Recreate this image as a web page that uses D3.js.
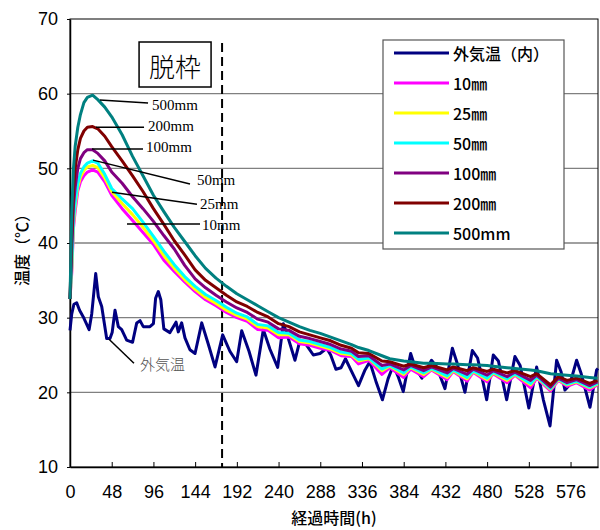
<!DOCTYPE html>
<html>
<head>
<meta charset="utf-8">
<script src="https://cdn.jsdelivr.net/npm/d3@7"></script>
<style>
  body { margin: 0; background: #fff; }
  svg { display: block; }
</style>
</head>
<body>
<svg id="chart" width="600" height="530"></svg>
<script>
// ---- data ----------------------------------------------------------------
// Elapsed hours shared by the concrete-depth sensors
const hours = [0,2,4,6,9,12,16,20,26,32,
  40,48,60,72,84,96,108,120,132,144,
  156,168,180,192,204,216,228,240,252,264,
  276,288,300,312,324,332,344,359,368,384,
  392,407,416,434,441,457,464,480,487,503,
  512,530,537,553,562,572,583,598,607];

// Concrete temperature (°C) at each depth
const temp10 = [32.5,36,42,44.3,47,48.2,49.0,49.5,49.8,49.5,
  48.2,46.4,44.6,43.0,41.4,39.8,37.7,36.2,34.8,33.5,
  32.4,31.6,30.7,30.0,29.5,28.4,28.3,27.3,27.4,26.5,
  26.3,25.9,25.6,24.9,24.8,23.8,24.3,22.4,23.3,22.0,
  23.1,22.1,23.0,21.7,22.8,21.5,22.7,21.4,22.5,21.3,
  22.3,20.6,21.9,20.2,21.6,20.8,21.3,20.3,21.0];
const temp25 = [32.5,36.5,42.5,45,47.5,48.8,49.7,50.2,50.4,50.1,
  48.7,46.9,45.3,43.8,42.1,40.3,38.3,36.6,35.1,33.8,
  32.7,31.9,31.0,30.3,29.8,28.8,28.6,27.7,27.7,26.8,
  26.6,26.2,25.8,25.2,25.0,24.2,24.5,22.9,23.5,22.4,
  23.3,22.4,23.1,22.0,22.9,21.8,22.8,21.7,22.6,21.6,
  22.4,21.0,22.0,20.4,21.7,21.0,21.4,20.6,21.1];
const temp50 = [32.5,37,43,45.5,48,49.3,50.2,50.7,51.0,50.7,
  49.2,47.3,45.9,44.6,42.8,40.9,38.9,37.1,35.5,34.2,
  33.1,32.3,31.4,30.6,30.1,29.1,28.9,28.0,27.9,27.0,
  26.8,26.4,26.0,25.4,25.2,24.4,24.6,23.1,23.6,22.6,
  23.4,22.6,23.2,22.2,23.0,22.0,22.9,21.9,22.7,21.8,
  22.5,21.2,22.1,20.5,21.8,21.1,21.5,20.7,21.2];
const temp100 = [32.5,39,45,47.5,50,51.3,52.1,52.5,52.5,52.0,
  51.0,49.5,48.0,46.2,44.6,42.9,41.0,39.2,37.0,35.2,
  34.0,33.0,32.1,31.3,30.7,29.8,29.4,28.5,28.3,27.5,
  27.2,26.8,26.4,25.8,25.5,24.8,24.9,23.6,23.8,23.0,
  23.6,22.9,23.4,22.6,23.2,22.4,23.1,22.3,22.9,22.1,
  22.7,21.6,22.3,20.7,21.9,21.3,21.7,20.9,21.4];
const temp200 = [32.5,41,47,50,52.5,54,55,55.5,55.6,55.3,
  54.3,52.9,51.0,49.0,46.9,44.6,42.5,40.3,38.4,36.4,
  35.0,34.0,33.0,32.1,31.5,30.7,30.1,29.2,28.8,28.1,
  27.7,27.3,26.9,26.3,25.9,25.3,25.2,24.2,24.1,23.5,
  23.8,23.3,23.6,23.0,23.4,22.9,23.3,22.8,23.1,22.6,
  22.9,22.1,22.5,21.0,22.1,21.6,21.9,21.2,21.6];
const temp500 = [32.5,44,50,53,55.5,57.2,58.8,59.5,59.8,59.2,
  58.2,56.9,54.5,51.6,49.0,46.4,44.2,42.1,40.2,38.3,
  36.6,35.3,34.2,33.2,32.4,31.6,30.8,30.0,29.4,28.8,
  28.3,27.9,27.4,26.9,26.4,26.0,25.6,24.9,24.5,24.2,
  24.1,23.9,23.9,23.8,23.8,23.7,23.7,23.6,23.5,23.3,
  23.2,23.0,22.9,22.5,22.4,22.3,22.2,22.0,21.9];

// Outside air temperature (its own sampling hours)
const outdoorHours = [0,2,4.5,7.7,11,15.3,22,25,29.6,32.6,
  36.5,42.2,46,48.5,51.8,55.6,59.5,65.2,72,76.8,
  80.6,84.3,92,96,98.5,101.6,104.5,108,115,122,
  124.6,128.5,132.3,138,143.9,151.6,159,166.9,175.7,184,
  191.8,197.6,206,214,222.5,230,239,245.5,249.4,258.9,
  264.7,272.4,280,287.7,295.4,300,306,312,317,324,
  332,339.5,345,352,359.5,366,372,378,383.5,392,
  397,405,416,422,431.5,440,445,454.5,463,469,
  475.6,479.5,487.1,493,502.5,512,518,528,537,544.7,
  552.4,560,565,569.6,575,583,588,598.4,606,607.6];
const outdoorTemp = [28.3,30.5,31.8,32.0,31.0,30.1,28.4,30.5,35.9,32.8,
  31.5,27.2,27.2,28.0,31.0,28.8,28.4,27.0,26.7,29.3,
  29.6,28.8,28.8,29.2,32.6,33.5,32.4,28.5,28.0,29.4,
  28.1,29.3,27.3,25.7,25.2,29.3,26.5,23.4,27.7,25.5,
  24.1,28.25,25.5,22.3,28.4,25.8,23.35,29.2,27.9,24.3,
  27.0,26.3,25.0,25.2,25.9,25.0,23.1,23.3,24.5,22.8,
  20.9,23.0,24.1,21.5,19.0,21.8,23.6,22.0,20.1,25.2,
  23.4,21.9,24.3,23.4,20.5,25.9,24.1,20.0,25.6,24.6,
  21.2,19.0,25.0,24.2,19.0,24.8,23.6,17.9,23.4,19.0,
  15.5,24.3,22.8,20.3,21.0,24.3,22.6,18.0,23.0,23.2];

// Legend labels and colours, in drawing order
const seriesNames = ["外気温（内）", "10㎜", "25㎜", "50㎜", "100㎜", "200㎜", "500mm"];
const seriesColors = ["#000080", "#ff00ff", "#ffff00", "#00ffff", "#800080", "#800000", "#008080"];

// Axis ticks
const xTicks = [0,48,96,144,192,240,288,336,384,432,480,528,576];
const yTicks = [10,20,30,40,50,60,70];

// Form removal time (h)
const removalHour = 175;

// Callout labels: anchor on a curve (hour, temp), line end and text position in data units
const callouts = [
  { text: "500mm", ax: 34.5, ay: 59.15, bx: 89.8, by: 58.75, tx: 94.4, ty: 57.85 },
  { text: "200mm", ax: 29.9, ay: 55.5,  bx: 85.2, by: 55.5,  tx: 89.8, ty: 55.05 },
  { text: "100mm", ax: 25.3, ay: 52.6,  bx: 84.0, by: 52.6,  tx: 87.5, ty: 52.15 },
  { text: "50mm",  ax: 26.5, ay: 51.1,  bx: 138.1, by: 47.9, tx: 146.1, ty: 47.75 },
  { text: "25mm",  ax: 48.3, ay: 46.8,  bx: 146.1, by: 45.2, tx: 149.6, ty: 44.55 },
  { text: "10mm",  ax: 65.6, ay: 42.55, bx: 149.6, by: 42.55, tx: 151.9, ty: 41.75 }
];
const outdoorCallout = { text: "外気温", ax: 44.9, ay: 27.1, bx: 73.6, by: 23.9, tx: 80.6, ty: 22.95 };

// ---- drawing -------------------------------------------------------------
const svg = d3.select("#chart");
const plotLeft = 70, plotRight = 598, plotTop = 19, plotBottom = 467;

const x = d3.scaleLinear().domain([0, 607.6]).range([plotLeft, plotRight]);
const y = d3.scaleLinear().domain([10, 70]).range([plotBottom, plotTop]);

const numFont = "'Liberation Sans Narrow', 'Liberation Sans', Arial, sans-serif";
const jpFont = "'Noto Sans CJK JP', sans-serif";
const serifFont = "'Liberation Serif', 'Times New Roman', serif";

// horizontal grid
svg.append("g")
  .selectAll("line")
  .data(yTicks.filter(v => v > 10 && v < 70))
  .join("line")
  .attr("x1", plotLeft).attr("x2", plotRight)
  .attr("y1", d => y(d)).attr("y2", d => y(d))
  .attr("stroke", "#808080")
  .attr("stroke-width", 1.3);

// plot frame
svg.append("rect")
  .attr("x", plotLeft).attr("y", plotTop)
  .attr("width", plotRight - plotLeft).attr("height", plotBottom - plotTop)
  .attr("fill", "none").attr("stroke", "#000").attr("stroke-width", 1);

// x axis
const xAxis = svg.append("g")
  .attr("transform", `translate(0,${plotBottom})`)
  .call(d3.axisBottom(x).tickValues(xTicks).tickSizeInner(-5).tickSizeOuter(0).tickPadding(18));
xAxis.select(".domain").attr("stroke", "#000").attr("stroke-width", 1.5);
xAxis.selectAll(".tick line").attr("stroke", "#000");
xAxis.selectAll("text").attr("font-family", numFont).attr("font-size", 18).attr("fill", "#000");

// y axis
const yAxis = svg.append("g")
  .attr("transform", `translate(${plotLeft},0)`)
  .call(d3.axisLeft(y).tickValues(yTicks).tickSizeInner(3).tickSizeOuter(0).tickPadding(9));
yAxis.select(".domain").attr("stroke", "#000").attr("stroke-width", 1.5);
yAxis.selectAll(".tick line").attr("stroke", "#000");
yAxis.selectAll("text").attr("font-family", numFont).attr("font-size", 18).attr("fill", "#000");

// axis titles
svg.append("text")
  .attr("x", 334).attr("y", 524)
  .attr("text-anchor", "middle")
  .attr("font-family", jpFont).attr("font-size", 16).attr("font-weight", 500)
  .text("経過時間(h)");
svg.append("text")
  .attr("transform", "translate(28,246) rotate(-90)")
  .attr("text-anchor", "middle")
  .attr("font-family", jpFont).attr("font-size", 16).attr("font-weight", 500)
  .text("温度（℃）");

// form-removal marker
svg.append("line")
  .attr("x1", x(removalHour)).attr("x2", x(removalHour))
  .attr("y1", y(66.8)).attr("y2", plotBottom)
  .attr("stroke", "#000").attr("stroke-width", 2)
  .attr("stroke-dasharray", "9,5");
const boxRight = x(removalHour) - 11;
svg.append("rect")
  .attr("x", boxRight - 72).attr("y", 42)
  .attr("width", 72).attr("height", 45)
  .attr("fill", "#fff").attr("stroke", "#000").attr("stroke-width", 1.5);
svg.append("text")
  .attr("x", boxRight - 36).attr("y", 65)
  .attr("text-anchor", "middle").attr("dominant-baseline", "central")
  .attr("font-family", jpFont).attr("font-size", 26).attr("font-weight", 300)
  .text("脱枠");

// series lines
const line = d3.line().x(d => x(d[0])).y(d => y(d[1]));
const depthSeries = [temp10, temp25, temp50, temp100, temp200, temp500];
const allSeries = [d3.zip(outdoorHours, outdoorTemp)]
  .concat(depthSeries.map(vals => d3.zip(hours, vals)));

svg.append("g")
  .selectAll("path")
  .data(allSeries)
  .join("path")
  .attr("d", line)
  .attr("fill", "none")
  .attr("stroke", (d, i) => seriesColors[i])
  .attr("stroke-width", 3)
  .attr("stroke-linejoin", "round");

// callouts
const cg = svg.append("g");
callouts.forEach(c => {
  cg.append("line")
    .attr("x1", x(c.ax)).attr("y1", y(c.ay))
    .attr("x2", x(c.bx)).attr("y2", y(c.by))
    .attr("stroke", "#000").attr("stroke-width", 1.5);
  cg.append("text")
    .attr("x", x(c.tx)).attr("y", y(c.ty))
    .attr("font-family", serifFont).attr("font-size", 15)
    .text(c.text);
});
cg.append("line")
  .attr("x1", x(outdoorCallout.ax)).attr("y1", y(outdoorCallout.ay))
  .attr("x2", x(outdoorCallout.bx)).attr("y2", y(outdoorCallout.by))
  .attr("stroke", "#000").attr("stroke-width", 1.5);
cg.append("text")
  .attr("x", x(outdoorCallout.tx)).attr("y", y(outdoorCallout.ty))
  .attr("font-family", jpFont).attr("font-size", 15).attr("font-weight", 300)
  .attr("fill", "#555")
  .text(outdoorCallout.text);

// legend
const lg = svg.append("g").attr("transform", "translate(383,40)");
lg.append("rect")
  .attr("width", 181).attr("height", 209)
  .attr("fill", "#fff").attr("stroke", "#555").attr("stroke-width", 1.2);
const items = lg.selectAll("g.item")
  .data(seriesNames)
  .join("g")
  .attr("class", "item")
  .attr("transform", (d, i) => `translate(0,${13 + i * 30})`);
items.append("line")
  .attr("x1", 11).attr("x2", 66)
  .attr("stroke", (d, i) => seriesColors[i])
  .attr("stroke-width", 3);
items.append("text")
  .attr("x", 70).attr("dominant-baseline", "central")
  .attr("font-family", jpFont).attr("font-size", 16).attr("font-weight", 500)
  .text(d => d);
</script>
</body>
</html>
